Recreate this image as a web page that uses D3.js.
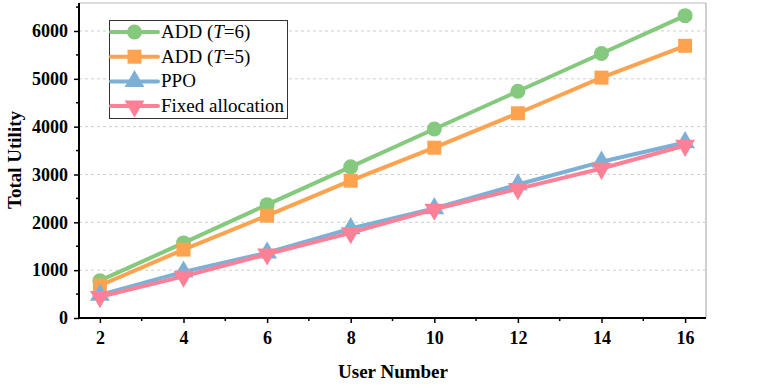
<!DOCTYPE html>
<html>
<head>
<meta charset="utf-8">
<script src="https://cdn.jsdelivr.net/npm/d3@7"></script>
<style>
  body { margin: 0; background: #fff; }
  svg text { font-family: "Liberation Serif", "Times New Roman", serif; }
</style>
</head>
<body>
<svg id="chart" width="764" height="385"></svg>
<script>
// data
var userNumbers = [2, 4, 6, 8, 10, 12, 14, 16];
var addT6 = [780, 1570, 2370, 3160, 3950, 4740, 5530, 6320];
var addT5 = [680, 1430, 2140, 2870, 3560, 4280, 5025, 5690];
var ppo = [480, 965, 1365, 1870, 2290, 2790, 3265, 3670];
var fixedAlloc = [445, 870, 1335, 1780, 2270, 2700, 3125, 3605];
var yTicks = [0, 1000, 2000, 3000, 4000, 5000, 6000];

var series = [
  {name: "ADD", t: "6", values: addT6, color: "#85c97e", symbol: "circle"},
  {name: "ADD", t: "5", values: addT5, color: "#fda350", symbol: "square"},
  {name: "PPO", values: ppo, color: "#7db0d6", symbol: "up"},
  {name: "Fixed allocation", values: fixedAlloc, color: "#fd8097", symbol: "down"}
];

var svg = d3.select("#chart"),
    plotLeft = 79, plotRight = 706, plotTop = 3, plotBottom = 318;

var x = d3.scaleLinear().domain([1.5, 16.5]).range([plotLeft, plotRight]);
var y = d3.scaleLinear().domain([0, 6585]).range([plotBottom, plotTop]);

// frame (light grey top & right)
svg.append("line").attr("x1", plotLeft).attr("x2", plotRight).attr("y1", plotTop).attr("y2", plotTop)
  .attr("stroke", "#d0d0d0").attr("stroke-width", 1.5);
svg.append("line").attr("x1", plotRight).attr("x2", plotRight).attr("y1", plotTop).attr("y2", plotBottom)
  .attr("stroke", "#c0c0c0").attr("stroke-width", 1.5);

// gridlines
svg.append("g").selectAll("line").data(yTicks.filter(d => d > 0)).join("line")
  .attr("x1", plotLeft).attr("x2", plotRight)
  .attr("y1", d => y(d)).attr("y2", d => y(d))
  .attr("stroke", "#cfcfcf").attr("stroke-width", 1).attr("stroke-dasharray", "3,3");

// axes
var xAxis = d3.axisBottom(x).tickValues(userNumbers).tickSize(5).tickPadding(8).tickFormat(d3.format("d"));
var yAxis = d3.axisLeft(y).tickValues(yTicks).tickSize(5).tickPadding(6).tickFormat(d3.format("d"));

var gx = svg.append("g").attr("transform", "translate(0," + plotBottom + ")").call(xAxis);
var gy = svg.append("g").attr("transform", "translate(" + plotLeft + ",0)").call(yAxis);

// minor ticks
gx.selectAll(".minor").data([3, 5, 7, 9, 11, 13, 15]).join("line")
  .attr("class", "minor").attr("x1", d => x(d)).attr("x2", d => x(d))
  .attr("y1", 0).attr("y2", 3).attr("stroke", "#000").attr("stroke-width", 1.5);
gy.selectAll(".minor").data([500, 1500, 2500, 3500, 4500, 5500, 6500]).join("line")
  .attr("class", "minor").attr("y1", d => y(d)).attr("y2", d => y(d))
  .attr("x1", 0).attr("x2", -3).attr("stroke", "#000").attr("stroke-width", 1.5);

[gx, gy].forEach(g => {
  g.select(".domain").attr("stroke", "#000").attr("stroke-width", 2);
  g.selectAll(".tick line").attr("stroke", "#000").attr("stroke-width", 1.5);
  g.selectAll("text").attr("font-family", "Liberation Serif").attr("font-weight", "bold")
    .attr("font-size", 18).attr("fill", "#000");
});
gx.select(".domain").attr("d", "M" + plotLeft + ",0H" + plotRight);
gy.select(".domain").attr("d", "M0," + plotBottom + "V" + plotTop);

// axis titles
svg.append("text").attr("x", 393).attr("y", 378).attr("text-anchor", "middle")
  .attr("font-weight", "bold").attr("font-size", 19).text("User Number");
svg.append("text").attr("transform", "translate(21,160) rotate(-90)").attr("text-anchor", "middle")
  .attr("font-weight", "bold").attr("font-size", 19).text("Total Utility");

// marker drawing
function drawMarker(g, kind, cx, cy, color) {
  if (kind == "circle") {
    g.append("circle").attr("cx", cx).attr("cy", cy).attr("r", 7.5).attr("fill", color);
  } else if (kind == "square") {
    g.append("rect").attr("x", cx - 7).attr("y", cy - 7).attr("width", 14).attr("height", 14).attr("fill", color);
  } else {
    var tri = d3.symbol().type(d3.symbolTriangle).size(170);
    g.append("path").attr("d", tri)
      .attr("transform", "translate(" + cx + "," + cy + ")" + (kind == "down" ? " rotate(180)" : ""))
      .attr("fill", color);
  }
}

var line = d3.line().x((d, i) => x(userNumbers[i])).y(d => y(d));

series.forEach(s => {
  var g = svg.append("g");
  g.append("path").attr("d", line(s.values)).attr("fill", "none")
    .attr("stroke", s.color).attr("stroke-width", 4).attr("stroke-linejoin", "round");
  s.values.forEach((v, i) => drawMarker(g, s.symbol, x(userNumbers[i]), y(v), s.color));
});

// legend
var legend = svg.append("g");
legend.append("rect").attr("x", 109.5).attr("y", 20.5).attr("width", 178).attr("height", 98)
  .attr("fill", "#fff").attr("stroke", "#333").attr("stroke-width", 1);
series.forEach((s, i) => {
  var ly = 32 + i * 24.7;
  legend.append("line").attr("x1", 111).attr("x2", 158).attr("y1", ly).attr("y2", ly)
    .attr("stroke", s.color).attr("stroke-width", 4).attr("stroke-linecap", "round");
  drawMarker(legend, s.symbol, 134.5, ly, s.color);
  var t = legend.append("text").attr("x", 161).attr("y", ly + 6).attr("font-size", 19);
  if (s.t) {
    t.append("tspan").text(s.name + " (");
    t.append("tspan").attr("font-style", "italic").text("T");
    t.append("tspan").text("=" + s.t + ")");
  } else {
    t.text(s.name);
  }
});
</script>
</body>
</html>
